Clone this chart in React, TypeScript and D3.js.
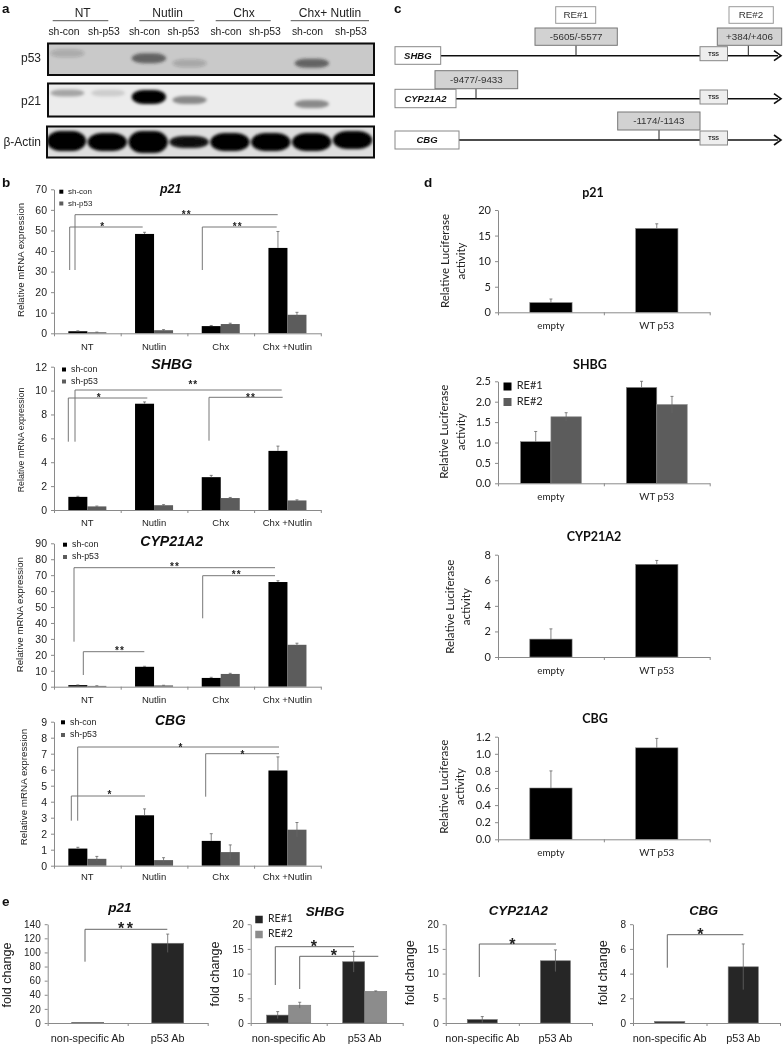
import React, { useEffect, useRef } from "react";
import * as d3 from "d3";

const ARIAL = "Liberation Sans, Arial, sans-serif";
const LATO = "Lato, sans-serif";

// panel a: blot
const blotGroups = ["NT", "Nutlin", "Chx", "Chx+ Nutlin"];
const blotLanes = ["sh-con", "sh-p53", "sh-con", "sh-p53", "sh-con", "sh-p53", "sh-con", "sh-p53"];
const p53Bands = [0.18, 0, 0.62, 0.2, 0, 0, 0.62, 0];
const p53Shift = [-6, 0, -1, 4, 0, 0, 4, 0];
const p53Thick = [4, 0, 5, 4, 0, 0, 4.5, 0];
const p21Bands = [0.3, 0.13, 1, 0.42, 0, 0, 0.42, 0];
const p21Shift = [-7, -7, -3, 0, 0, 0, 4, 0];
const p21Thick = [3.5, 3.5, 7, 4, 0, 0, 4, 0];
const actinBands = [1, 1, 1, 0.92, 1, 1, 1, 1];
const actinShift = [-1, 0, 0, 0, 0, 0, 0, -2];
const actinThick = [10, 9, 11, 6, 9, 9, 9, 9];

// panel b
const treatments = ["NT", "Nutlin", "Chx", "Chx +Nutlin"];
const shConP21 = [1, 48.3, 3.5, 41.5];
const shConP21Err = [0.2, 0.8, 0.3, 8];
const shP53P21 = [0.5, 1.5, 4.5, 9];
const shP53P21Err = [0.1, 0.3, 0.4, 1.2];
const shConShbg = [1.1, 8.9, 2.75, 4.95];
const shConShbgErr = [0.05, 0.15, 0.15, 0.4];
const shP53Shbg = [0.3, 0.4, 1, 0.8];
const shP53ShbgErr = [0.03, 0.05, 0.05, 0.05];
const shConCyp = [1, 12.5, 5.5, 65.7];
const shConCypErr = [0.1, 0.3, 0.4, 0.8];
const shP53Cyp = [0.5, 0.8, 8, 26.3];
const shP53CypErr = [0.1, 0.1, 0.4, 1];
const shConCbg = [1.07, 3.15, 1.55, 5.95];
const shConCbgErr = [0.08, 0.4, 0.45, 0.85];
const shP53Cbg = [0.43, 0.35, 0.85, 2.25];
const shP53CbgErr = [0.15, 0.15, 0.45, 0.45];

// panel d
const reporters = ["empty", "WT p53"];
const lucP21 = [1.9, 16.4];
const lucP21Err = [0.7, 0.9];
const lucShbgRe1 = [1.02, 2.35];
const lucShbgRe1Err = [0.25, 0.15];
const lucShbgRe2 = [1.63, 1.93];
const lucShbgRe2Err = [0.1, 0.2];
const lucCyp = [1.4, 7.25];
const lucCypErr = [0.8, 0.3];
const lucCbg = [0.6, 1.07];
const lucCbgErr = [0.2, 0.11];

// panel e
const antibodies = ["non-specific Ab", "p53 Ab"];
const chipP21 = [0.8, 113];
const chipP21Err = [0, 13];
const chipShbgRe1 = [1.6, 12.4];
const chipShbgRe1Err = [0.7, 2.1];
const chipShbgRe2 = [3.6, 6.4];
const chipShbgRe2Err = [0.6, 0.1];
const chipCyp = [0.7, 12.6];
const chipCypErr = [0.6, 2.2];
const chipCbg = [0.12, 4.55];
const chipCbgErr = [0, 1.85];

const BLACK = "#000";
const GRAY_B = "#5c5c5c";
const DARK_E = "#262626";

const fmt0 = d3.format("d");
const fmt1 = d3.format(".1f");

const Axes = ({ x, y, n, fontFamily, fontSize, ticks, format }) => {
  const yRef = useRef(null);
  const xRef = useRef(null);
  useEffect(() => {
    const yAxis = d3.axisLeft(y).tickValues(ticks).tickSize(3).tickPadding(4).tickSizeOuter(0).tickFormat(format);
    const gy = d3.select(yRef.current).call(yAxis);
    gy.attr("font-family", fontFamily).attr("font-size", fontSize);
    gy.selectAll("line,path").attr("stroke", "#8a8a8a");
    gy.selectAll("text").attr("fill", "#222");
    const groupScale = d3.scaleLinear().domain([0, n]).range(x.range());
    const xAxis = d3.axisBottom(groupScale).tickValues(d3.range(n + 1)).tickSize(3).tickSizeOuter(0).tickFormat(() => "");
    const gx = d3.select(xRef.current).call(xAxis);
    gx.selectAll("line,path").attr("stroke", "#8a8a8a");
  }, []);
  return (
    <g>
      <g ref={yRef} transform={`translate(${x.range()[0]},0)`} />
      <g ref={xRef} transform={`translate(0,${y.range()[0]})`} />
    </g>
  );
};

const Bars = ({ box, max, ticks, format, cats, series, padding, font, tickSize, catSize, catY, errColor = "#666" }) => {
  const x = d3.scaleBand().domain(cats).range([box.left, box.right]).paddingInner(padding).paddingOuter(padding / 2);
  const y = d3.scaleLinear().domain([0, max]).range([box.bottom, box.top]);
  const inner = d3.scaleBand().domain(d3.range(series.length)).range([0, x.bandwidth()]);
  return (
    <g>
      {series.map((s, i) =>
        cats.map((c, k) => {
          const bx = x(c) + inner(i);
          const cx = bx + inner.bandwidth() / 2;
          const hi = y(s.values[k] + s.err[k]);
          const lo = s.color === BLACK ? y(s.values[k]) : y(Math.max(0, s.values[k] - s.err[k]));
          return (
            <g key={`${i}-${k}`}>
              <rect x={bx} y={y(s.values[k])} width={inner.bandwidth()} height={box.bottom - y(s.values[k])} fill={s.color} stroke={s.stroke || "none"} strokeWidth={0.6} />
              {s.err[k] > 0 && (
                <path d={`M${cx},${lo}V${hi}M${cx - 1.5},${hi}H${cx + 1.5}`} stroke={errColor} strokeWidth={0.8} fill="none" />
              )}
            </g>
          );
        })
      )}
      <Axes x={x} y={y} n={cats.length} ticks={ticks} format={format} fontFamily={font} fontSize={tickSize} />
      {cats.map((c) => (
        <text key={c} x={x(c) + x.bandwidth() / 2} y={catY} textAnchor="middle" fontFamily={font} fontSize={catSize} fill="#222">
          {c}
        </text>
      ))}
    </g>
  );
};

const Bracket = ({ x0, base, top, x1, stars, starX, starY, size = 10, color = "#777", width = 1 }) => (
  <g>
    <path d={`M${x0},${base}V${top}H${x1}`} fill="none" stroke={color} strokeWidth={width} />
    <text x={starX} y={starY + size * 0.55} textAnchor="middle" fontFamily={ARIAL} fontWeight="bold" fontSize={size} letterSpacing={size > 12 ? 2.5 : 1} fill="#222">
      {stars}
    </text>
  </g>
);

const Title = ({ x, y, size, italic = true, font = ARIAL, children }) => (
  <text x={x} y={y} textAnchor="middle" dominantBaseline="middle" fontFamily={font} fontWeight="bold" fontStyle={italic ? "italic" : "normal"} fontSize={size} fill="#111">
    {children}
  </text>
);

const YLabel = ({ x, y, size, font = ARIAL, children }) => (
  <text transform={`translate(${x},${y}) rotate(-90)`} textAnchor="middle" dominantBaseline="middle" fontFamily={font} fontSize={size} fill="#222">
    {children}
  </text>
);

const Legend = ({ x, y0, y1, size, square, labels, font = ARIAL, colors, textX }) => (
  <g>
    {[y0, y1].map((y, i) => (
      <g key={i}>
        <rect x={x - square / 2} y={y - square / 2} width={square} height={square} fill={colors[i]} />
        <text x={textX} y={y} dominantBaseline="middle" fontFamily={font} fontSize={size} fill="#222">
          {labels[i]}
        </text>
      </g>
    ))}
  </g>
);

const BlotRow = ({ id, top, bottom, left, right, bg, bands, shift, thick, bandColor, widthFactor = 0.84, blur, label, labelY, labelSize = 12 }) => {
  const lane = d3.scaleBand().domain(d3.range(8)).range([left, right]);
  const cy = (top + bottom) / 2;
  const w = lane.bandwidth() * widthFactor;
  return (
    <g>
      <clipPath id={id}>
        <rect x={left} y={top} width={right - left} height={bottom - top} />
      </clipPath>
      <rect x={left} y={top} width={right - left} height={bottom - top} fill={bg} />
      <g clipPath={`url(#${id})`}>
        <g filter={`url(#${blur})`}>
          {bands.map((v, i) =>
            v > 0 ? (
              <rect
                key={i}
                x={lane(i) + (lane.bandwidth() - w) / 2 - 1}
                y={cy + shift[i] - thick[i]}
                width={w}
                height={thick[i] * 2}
                rx={w * 0.35}
                ry={thick[i]}
                fill={bandColor}
                opacity={v}
              />
            ) : null
          )}
        </g>
      </g>
      <rect x={left} y={top} width={right - left} height={bottom - top} fill="none" stroke="#0a0a0a" strokeWidth={2} />
      <text x={41} y={labelY} textAnchor="end" dominantBaseline="middle" fontFamily={ARIAL} fontSize={labelSize} fill="#222">
        {label}
      </text>
    </g>
  );
};

const GeneLine = ({ name, boxX0, boxX1, boxY0, boxY1, lineY, tssY0, tssY1, sites }) => (
  <g>
    <path d={`M${boxX1},${lineY}H778`} stroke="#111" strokeWidth={1.6} />
    <path d={`M774,${lineY - 5}L781,${lineY}L774,${lineY + 5}`} fill="none" stroke="#111" strokeWidth={1.6} />
    <rect x={boxX0} y={boxY0} width={boxX1 - boxX0} height={boxY1 - boxY0} fill="#fff" stroke="#888" strokeWidth={1} />
    <text x={(boxX0 + boxX1) / 2} y={(boxY0 + boxY1) / 2 + 0.5} textAnchor="middle" dominantBaseline="middle" fontFamily={ARIAL} fontWeight="bold" fontStyle="italic" fontSize={9.5} fill="#111">
      {name}
    </text>
    <rect x={700} y={tssY0} width={27.5} height={tssY1 - tssY0} fill="#eee" stroke="#888" strokeWidth={1} />
    <text x={713.7} y={(tssY0 + tssY1) / 2 + 0.5} textAnchor="middle" dominantBaseline="middle" fontFamily={ARIAL} fontWeight="bold" fontSize={5.5} fill="#222">
      TSS
    </text>
    {sites.map((s) => (
      <g key={s.label}>
        <path d={`M${s.x},${s.y1}V${lineY}`} stroke="#222" strokeWidth={1} />
        <rect x={s.x0} y={s.y0} width={s.x1 - s.x0} height={s.y1 - s.y0} fill="#d2d2d2" stroke="#777" strokeWidth={1} />
        <text x={(s.x0 + s.x1) / 2} y={(s.y0 + s.y1) / 2 + 0.5} textAnchor="middle" dominantBaseline="middle" fontFamily={ARIAL} fontSize={9.8} fill="#333">
          {s.label}
        </text>
      </g>
    ))}
  </g>
);

const BlotLabels = () => {
  const groupCenters = [82.7, 167.7, 244, 330];
  const groupSpans = [[52.7, 108.3], [139.3, 194.3], [215.7, 270.7], [290.7, 369]];
  const laneCenters = [64, 104, 144.5, 183.5, 226, 265, 307.5, 351];
  return (
    <g fontFamily={ARIAL} fill="#222">
      {blotGroups.map((g, i) => (
        <g key={g}>
          <text x={groupCenters[i]} y={16.5} textAnchor="middle" fontSize={12}>{g}</text>
          <path d={`M${groupSpans[i][0]},20.7H${groupSpans[i][1]}`} stroke="#555" strokeWidth={1} />
        </g>
      ))}
      {blotLanes.map((l, i) => (
        <text key={i} x={laneCenters[i]} y={34.5} textAnchor="middle" fontSize={10.4}>{l}</text>
      ))}
    </g>
  );
};

export default function App() {
  const shSeries = (a, ae, b, be) => [
    { values: a, err: ae, color: BLACK },
    { values: b, err: be, color: GRAY_B },
  ];
  const bCommon = { cats: treatments, padding: 0.43, font: ARIAL, tickSize: 10.5, catSize: 9.5 };
  const dCommon = { cats: reporters, font: LATO, tickSize: 11, catSize: 9.8 };
  const eCommon = { cats: antibodies, font: ARIAL, tickSize: 10, catSize: 10.9, errColor: "#666" };
  const boxE = (left, right) => ({ left, right, top: 924.2, bottom: 1023 });

  return (
    <svg width={784} height={1045} style={{ position: "absolute", left: 0, top: 0, background: "#fff" }}>
      <defs>
        <filter id="soft" x="-2%" y="-2%" width="104%" height="104%">
          <feGaussianBlur stdDeviation="0.35" />
        </filter>
        <filter id="blur2" x="-40%" y="-80%" width="180%" height="260%">
          <feGaussianBlur stdDeviation="1.7" />
        </filter>
        <filter id="blur3" x="-40%" y="-80%" width="180%" height="260%">
          <feGaussianBlur stdDeviation="1.6" />
        </filter>
      </defs>
      <rect width={784} height={1045} fill="#fff" />
      <g filter="url(#soft)">
        {/* panel letters */}
        <g fontFamily={ARIAL} fontWeight="bold" fontSize={13.5} fill="#111">
          <text x={2} y={13}>a</text>
          <text x={394} y={13}>c</text>
          <text x={2} y={187}>b</text>
          <text x={424} y={187}>d</text>
          <text x={2} y={906}>e</text>
        </g>

        {/* a */}
        <BlotLabels />
        <BlotRow id="c53" top={43.5} bottom={75} left={48} right={374} bg="#c9c9c9" bands={p53Bands} shift={p53Shift} thick={p53Thick} bandColor="#222" blur="blur2" label="p53" labelY={59.3} />
        <BlotRow id="c21" top={83.5} bottom={116.5} left={48} right={374} bg="#ececec" bands={p21Bands} shift={p21Shift} thick={p21Thick} bandColor="#000" blur="blur2" label="p21" labelY={101.7} />
        <BlotRow id="cact" top={126.5} bottom={157.5} left={47} right={374} bg="#dedede" bands={actinBands} shift={actinShift} thick={actinThick} widthFactor={0.96} bandColor="#040404" blur="blur3" label="β-Actin" labelY={143.3} />

        {/* b */}
        <Title x={170.7} y={189.5} size={12.4}>p21</Title>
        <Bars box={{ left: 54, right: 320.8, top: 189.3, bottom: 333.3 }} max={70} ticks={d3.range(0, 71, 10)} format={fmt0} series={shSeries(shConP21, shConP21Err, shP53P21, shP53P21Err)} catY={350} {...bCommon} />
        <YLabel x={21.7} y={260} size={9.6}>Relative mRNA  expression</YLabel>
        <Legend x={61.3} y0={191.7} y1={203.5} square={4} size={8} textX={68} labels={["sh-con", "sh-p53"]} colors={[BLACK, GRAY_B]} />
        <Bracket x0={69.7} base={270} top={227} x1={142.7} stars="*" starX={102.7} starY={224} />
        <Bracket x0={75} base={270} top={214.7} x1={277.7} stars="**" starX={186.7} starY={212} />
        <Bracket x0={202.3} base={270} top={227} x1={276.7} stars="**" starX={237.7} starY={224} />

        <Title x={171.7} y={365.5} size={14.2}>SHBG</Title>
        <Bars box={{ left: 54, right: 320.8, top: 366.7, bottom: 510 }} max={12} ticks={d3.range(0, 13, 2)} format={fmt0} series={shSeries(shConShbg, shConShbgErr, shP53Shbg, shP53ShbgErr)} catY={526} {...bCommon} />
        <YLabel x={21.7} y={440} size={8.8}>Relative mRNA  expression</YLabel>
        <Legend x={64} y0={369.5} y1={381.5} square={4} size={8.8} textX={71} labels={["sh-con", "sh-p53"]} colors={[BLACK, GRAY_B]} />
        <Bracket x0={68.3} base={441.7} top={398} x1={147.3} stars="*" starX={99.3} starY={395} />
        <Bracket x0={75} base={441.7} top={390} x1={281.7} stars="**" starX={193.3} starY={382} />
        <Bracket x0={209} base={440.7} top={397.3} x1={282.7} stars="**" starX={251} starY={395} />

        <Title x={171.7} y={542} size={14.2}>CYP21A2</Title>
        <Bars box={{ left: 54, right: 320.8, top: 543.3, bottom: 686.7 }} max={90} ticks={d3.range(0, 91, 10)} format={fmt0} series={shSeries(shConCyp, shConCypErr, shP53Cyp, shP53CypErr)} catY={703} {...bCommon} />
        <YLabel x={20.7} y={614.7} size={9.7}>Relative mRNA  expression</YLabel>
        <Legend x={65} y0={544.7} y1={557} square={4} size={8.8} textX={72} labels={["sh-con", "sh-p53"]} colors={[BLACK, GRAY_B]} />
        <Bracket x0={74} base={641.7} top={567.7} x1={275} stars="**" starX={175} starY={564} />
        <Bracket x0={202.7} base={618.3} top={575.7} x1={275} stars="**" starX={236.7} starY={572} />
        <Bracket x0={83.3} base={675} top={651.7} x1={144.3} stars="**" starX={120} starY={648} />

        <Title x={170.3} y={721} size={13.8}>CBG</Title>
        <Bars box={{ left: 54, right: 320.8, top: 721.7, bottom: 865.7 }} max={9} ticks={d3.range(0, 10)} format={fmt0} series={shSeries(shConCbg, shConCbgErr, shP53Cbg, shP53CbgErr)} catY={880} {...bCommon} />
        <YLabel x={24} y={787} size={9.8}>Relative mRNA  expression</YLabel>
        <Legend x={63} y0={722.3} y1={735} square={4} size={8.8} textX={70} labels={["sh-con", "sh-p53"]} colors={[BLACK, GRAY_B]} />
        <Bracket x0={71.3} base={820.7} top={796} x1={145} stars="*" starX={110} starY={792.5} />
        <Bracket x0={77.7} base={820.7} top={747} x1={279} stars="*" starX={181} starY={745} />
        <Bracket x0={205.7} base={796.7} top={753.7} x1={279} stars="*" starX={243} starY={752} />

        {/* c */}
        <g fontFamily={ARIAL} fontSize={9.8} fill="#333">
          <rect x={555.7} y={6.7} width={40} height={16.6} fill="#fff" stroke="#999" />
          <text x={575.7} y={15.5} textAnchor="middle" dominantBaseline="middle">RE#1</text>
          <rect x={729} y={6.7} width={44.3} height={16.6} fill="#fff" stroke="#999" />
          <text x={751} y={15.5} textAnchor="middle" dominantBaseline="middle">RE#2</text>
        </g>
        <GeneLine name="SHBG" boxX0={395} boxX1={440.7} boxY0={46.7} boxY1={64.3} lineY={55.7} tssY0={46.7} tssY1={60.7}
          sites={[{ label: "-5605/-5577", x: 576, x0: 535, x1: 617.3, y0: 28, y1: 45.3 }, { label: "+384/+406", x: 748.3, x0: 717.3, x1: 781.7, y0: 28, y1: 45.3 }]} />
        <GeneLine name="CYP21A2" boxX0={395} boxX1={456} boxY0={89.3} boxY1={107.7} lineY={98.7} tssY0={90} tssY1={104}
          sites={[{ label: "-9477/-9433", x: 476, x0: 435, x1: 517.7, y0: 70.7, y1: 88.7 }]} />
        <GeneLine name="CBG" boxX0={395} boxX1={459} boxY0={131} boxY1={149} lineY={140} tssY0={131} tssY1={145}
          sites={[{ label: "-1174/-1143", x: 659, x0: 617.7, x1: 700, y0: 112, y1: 130 }]} />

        {/* d */}
        <Title x={593} y={194} size={12.5} italic={false} font={LATO}>p21</Title>
        <Bars box={{ left: 498, right: 709.7, top: 210, bottom: 312.3 }} max={20} ticks={d3.range(0, 21, 5)} format={fmt0} padding={0.6} series={[{ values: lucP21, err: lucP21Err, color: BLACK, stroke: "#888" }]} catY={328.5} {...dCommon} />
        <YLabel x={446} y={261} size={11.5} font={LATO}>Relative Luciferase</YLabel>
        <YLabel x={462} y={261} size={11.5} font={LATO}>activity</YLabel>

        <Title x={590} y={365.7} size={12.5} italic={false} font={LATO}>SHBG</Title>
        <Bars box={{ left: 498, right: 709.7, top: 381.3, bottom: 483.3 }} max={2.5} ticks={d3.range(0, 6).map((d) => d * 0.5)} format={fmt1} padding={0.425}
          series={[{ values: lucShbgRe1, err: lucShbgRe1Err, color: BLACK, stroke: "#888" }, { values: lucShbgRe2, err: lucShbgRe2Err, color: GRAY_B, stroke: "#888" }]} catY={500} {...dCommon} />
        <YLabel x={445} y={431.7} size={11.5} font={LATO}>Relative Luciferase</YLabel>
        <YLabel x={461.7} y={431.7} size={11.5} font={LATO}>activity</YLabel>
        <Legend x={507.5} y0={386.5} y1={402} square={8} size={11} textX={516.7} font={LATO} labels={["RE#1", "RE#2"]} colors={[BLACK, GRAY_B]} />

        <Title x={594} y={538} size={12.5} italic={false} font={LATO}>CYP21A2</Title>
        <Bars box={{ left: 498, right: 709.7, top: 554.7, bottom: 657 }} max={8} ticks={d3.range(0, 9, 2)} format={fmt0} padding={0.6} series={[{ values: lucCyp, err: lucCypErr, color: BLACK, stroke: "#888" }]} catY={673.5} {...dCommon} />
        <YLabel x={450.7} y={606.7} size={11.5} font={LATO}>Relative Luciferase</YLabel>
        <YLabel x={466.7} y={606.7} size={11.5} font={LATO}>activity</YLabel>

        <Title x={595} y={720} size={12.5} italic={false} font={LATO}>CBG</Title>
        <Bars box={{ left: 498, right: 709.7, top: 736.7, bottom: 839.3 }} max={1.2} ticks={d3.range(0, 7).map((d) => d * 0.2)} format={fmt1} padding={0.6} series={[{ values: lucCbg, err: lucCbgErr, color: BLACK, stroke: "#888" }]} catY={856} {...dCommon} />
        <YLabel x={445} y={786.7} size={11.5} font={LATO}>Relative Luciferase</YLabel>
        <YLabel x={461} y={786.7} size={11.5} font={LATO}>activity</YLabel>

        {/* e */}
        <Title x={120} y={908} size={13.5}>p21</Title>
        <Bars box={boxE(47.7, 207.7)} max={140} ticks={d3.range(0, 141, 20)} format={fmt0} padding={0.6} series={[{ values: chipP21, err: chipP21Err, color: DARK_E, stroke: "#777" }]} catY={1042} {...eCommon} />
        <YLabel x={7.3} y={975} size={12.6}>fold change</YLabel>
        <Bracket x0={85} base={961.7} top={929.3} x1={167.3} stars="**" starX={126.7} starY={925.5} size={16} color="#666" />

        <Title x={325} y={912.7} size={13.4}>SHBG</Title>
        <Bars box={boxE(250.7, 402.7)} max={20} ticks={d3.range(0, 21, 5)} format={fmt0} padding={0.42}
          series={[{ values: chipShbgRe1, err: chipShbgRe1Err, color: DARK_E, stroke: "#777" }, { values: chipShbgRe2, err: chipShbgRe2Err, color: "#8c8c8c", stroke: "#777" }]} catY={1042} {...eCommon} />
        <YLabel x={216} y={974} size={12.6}>fold change</YLabel>
        <Legend x={259} y0={919.5} y1={934.5} square={7.5} size={10.5} textX={268} font={LATO} labels={["RE#1", "RE#2"]} colors={[DARK_E, "#8c8c8c"]} />
        <Bracket x0={275.3} base={985} top={946.7} x1={354} stars="*" starX={315} starY={943} size={16} color="#666" />
        <Bracket x0={299.7} base={989} top={956.3} x1={378.3} stars="*" starX={335} starY={952.5} size={16} color="#666" />

        <Title x={518.3} y={911.7} size={13.3}>CYP21A2</Title>
        <Bars box={boxE(445.7, 592)} max={20} ticks={d3.range(0, 21, 5)} format={fmt0} padding={0.59} series={[{ values: chipCyp, err: chipCypErr, color: DARK_E, stroke: "#777" }]} catY={1042} {...eCommon} />
        <YLabel x={410.7} y={972.7} size={12.6}>fold change</YLabel>
        <Bracket x0={479.3} base={977} top={944} x1={556} stars="*" starX={513.7} starY={941} size={16} color="#666" />

        <Title x={703.7} y={911.7} size={13}>CBG</Title>
        <Bars box={boxE(633, 780)} max={8} ticks={d3.range(0, 9, 2)} format={fmt0} padding={0.59} series={[{ values: chipCbg, err: chipCbgErr, color: DARK_E, stroke: "#777" }]} catY={1042} {...eCommon} />
        <YLabel x={603.3} y={972.7} size={12.6}>fold change</YLabel>
        <Bracket x0={667.3} base={967.7} top={934.7} x1={743.3} stars="*" starX={701.7} starY={931} size={16} color="#666" />
      </g>
    </svg>
  );
}
